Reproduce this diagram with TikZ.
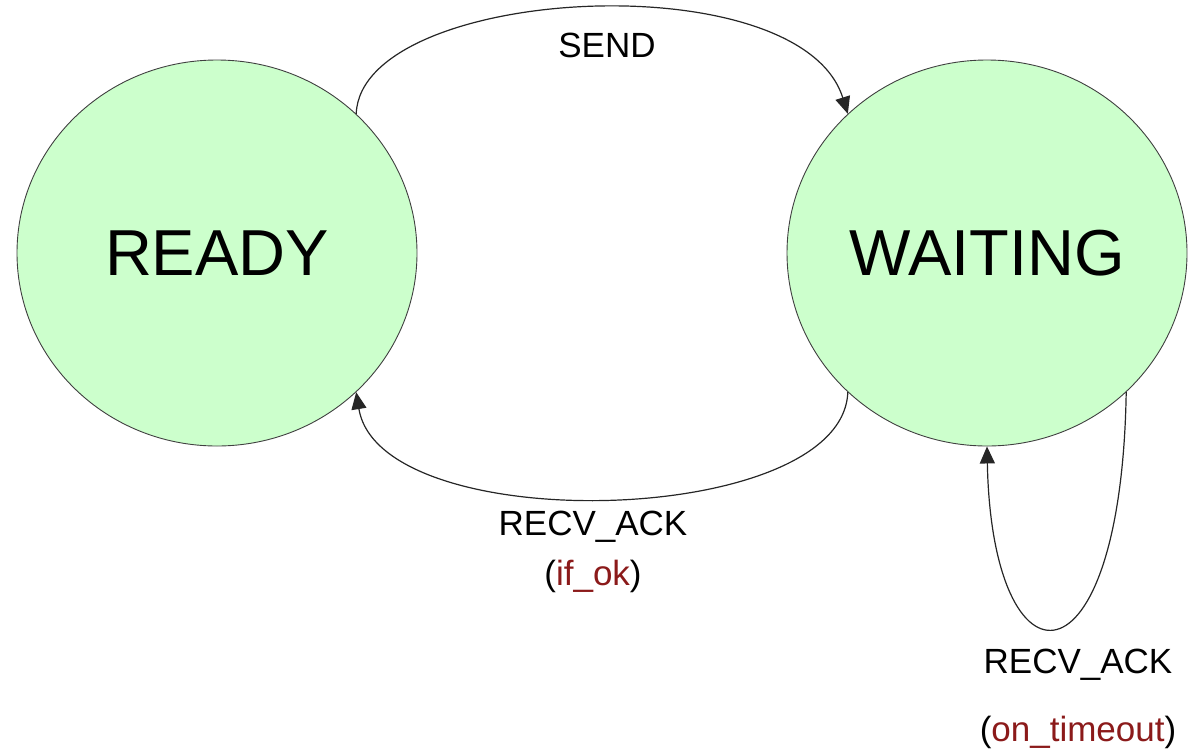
\documentclass[tikz,border=0pt]{standalone}
\usepackage{fontspec}
\setmainfont{Liberation Sans}
\usetikzlibrary{shapes.geometric,arrows.meta}
\definecolor{stategreen}{HTML}{CCFFCC}
\definecolor{condred}{HTML}{8B1A1A}
\tikzset{
  statenode/.style={ellipse, draw=black!75, line width=0.9pt, fill=stategreen,
    minimum width=400pt, minimum height=386pt, inner sep=0pt,
    font=\fontsize{65}{78}\selectfont},
  trans/.style={draw=black!85, line width=1.2pt, -{Triangle[length=17pt,width=15pt]}},
  lbl/.style={font=\fontsize{35}{42}\selectfont, inner sep=0pt, anchor=center},
}
\begin{document}
\begin{tikzpicture}[x=1pt,y=-1pt]
\useasboundingbox (0,0) rectangle (1188,753);
\node[statenode] (ready) at (217,253) {READY};
\node[statenode] (waiting) at (987,253) {WAITING};

\draw[trans] (ready.45) .. controls +(5,-128) and +(-48,-153) .. (waiting.135);
\draw[trans] (waiting.225) .. controls +(-5,136) and +(24,147) .. (ready.-45);
\draw[trans] (waiting.-45) .. controls +(-5,305) and +(5,250) .. (waiting.-90);

\node[lbl] (send) at (607,45) {SEND};
\node[lbl] (ack1) at (593,527) {RECV\_ACK};
\node[lbl] (cond1) at (593,576) {(\textcolor{condred}{if\_ok})};
\node[lbl] (ack2) at (1078,665) {RECV\_ACK};
\node[lbl] (cond2) at (1078,732) {(\textcolor{condred}{on\_timeout})};
\end{tikzpicture}
\end{document}
